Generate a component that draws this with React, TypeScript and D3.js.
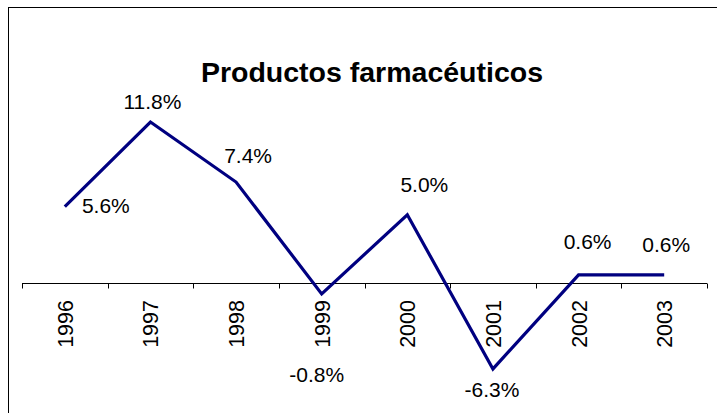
import React from "react";
import * as d3 from "d3";

const years = ["1996", "1997", "1998", "1999", "2000", "2001", "2002", "2003"];
const values = [5.6, 11.8, 7.4, -0.8, 5.0, -6.3, 0.6, 0.6];
const valueLabels = ["5.6%", "11.8%", "7.4%", "-0.8%", "5.0%", "-6.3%", "0.6%", "0.6%"];
const title = "Productos farmacéuticos";

// label placement offsets (layout only)
const labelOffsets: [number, number][] = [
  [41, 6], [2, -13], [12, -19], [-5, 88], [17, -23], [-1, 28], [9, -26], [2, -23],
];

const W = 717;
const H = 413;
const FONT = "Arial, 'Liberation Sans', sans-serif";

export default function App() {
  const x = d3.scaleBand<string>().domain(years).range([22, 707]);
  const y = d3.scaleLinear().domain([-10, 15]).range([419.4, 78.4]);
  const cx = (d: string) => (x(d) as number) + x.bandwidth() / 2;
  const line = d3
    .line<number>()
    .x((_, i) => cx(years[i]))
    .y((v) => y(v));
  const y0 = Math.round(y(0)) + 0.5;
  const ticks = [...years.map((d) => x(d) as number), x.range()[1]];

  return (
    <svg
      width={W}
      height={H}
      style={{ position: "absolute", left: 0, top: 0, background: "#fff" }}
      fontFamily={FONT}
    >
      <rect x={8.5} y={7.5} width={730} height={430} fill="#fff" stroke="#000" strokeWidth={1} />
      <text x={372} y={82} textAnchor="middle" fontSize={28.5} fontWeight="bold" fill="#000">
        {title}
      </text>
      <line x1={ticks[0]} x2={ticks[ticks.length - 1]} y1={y0} y2={y0} stroke="#000" strokeWidth={1} />
      {ticks.map((t, i) => (
        <line key={i} x1={Math.round(t) + 0.5} x2={Math.round(t) + 0.5} y1={y0} y2={y0 + 5} stroke="#000" />
      ))}
      {years.map((d) => (
        <text
          key={d}
          transform={`translate(${cx(d) + 8},300) rotate(-90)`}
          textAnchor="end"
          fontSize={21.5}
          fill="#000"
        >
          {d}
        </text>
      ))}
      <path d={line(values) || ""} fill="none" stroke="#000080" strokeWidth={3.2} strokeLinejoin="miter" />
      {values.map((v, i) => (
        <text
          key={i}
          x={cx(years[i]) + labelOffsets[i][0]}
          y={y(v) + labelOffsets[i][1]}
          textAnchor="middle"
          fontSize={21}
          fill="#000"
        >
          {valueLabels[i]}
        </text>
      ))}
    </svg>
  );
}
